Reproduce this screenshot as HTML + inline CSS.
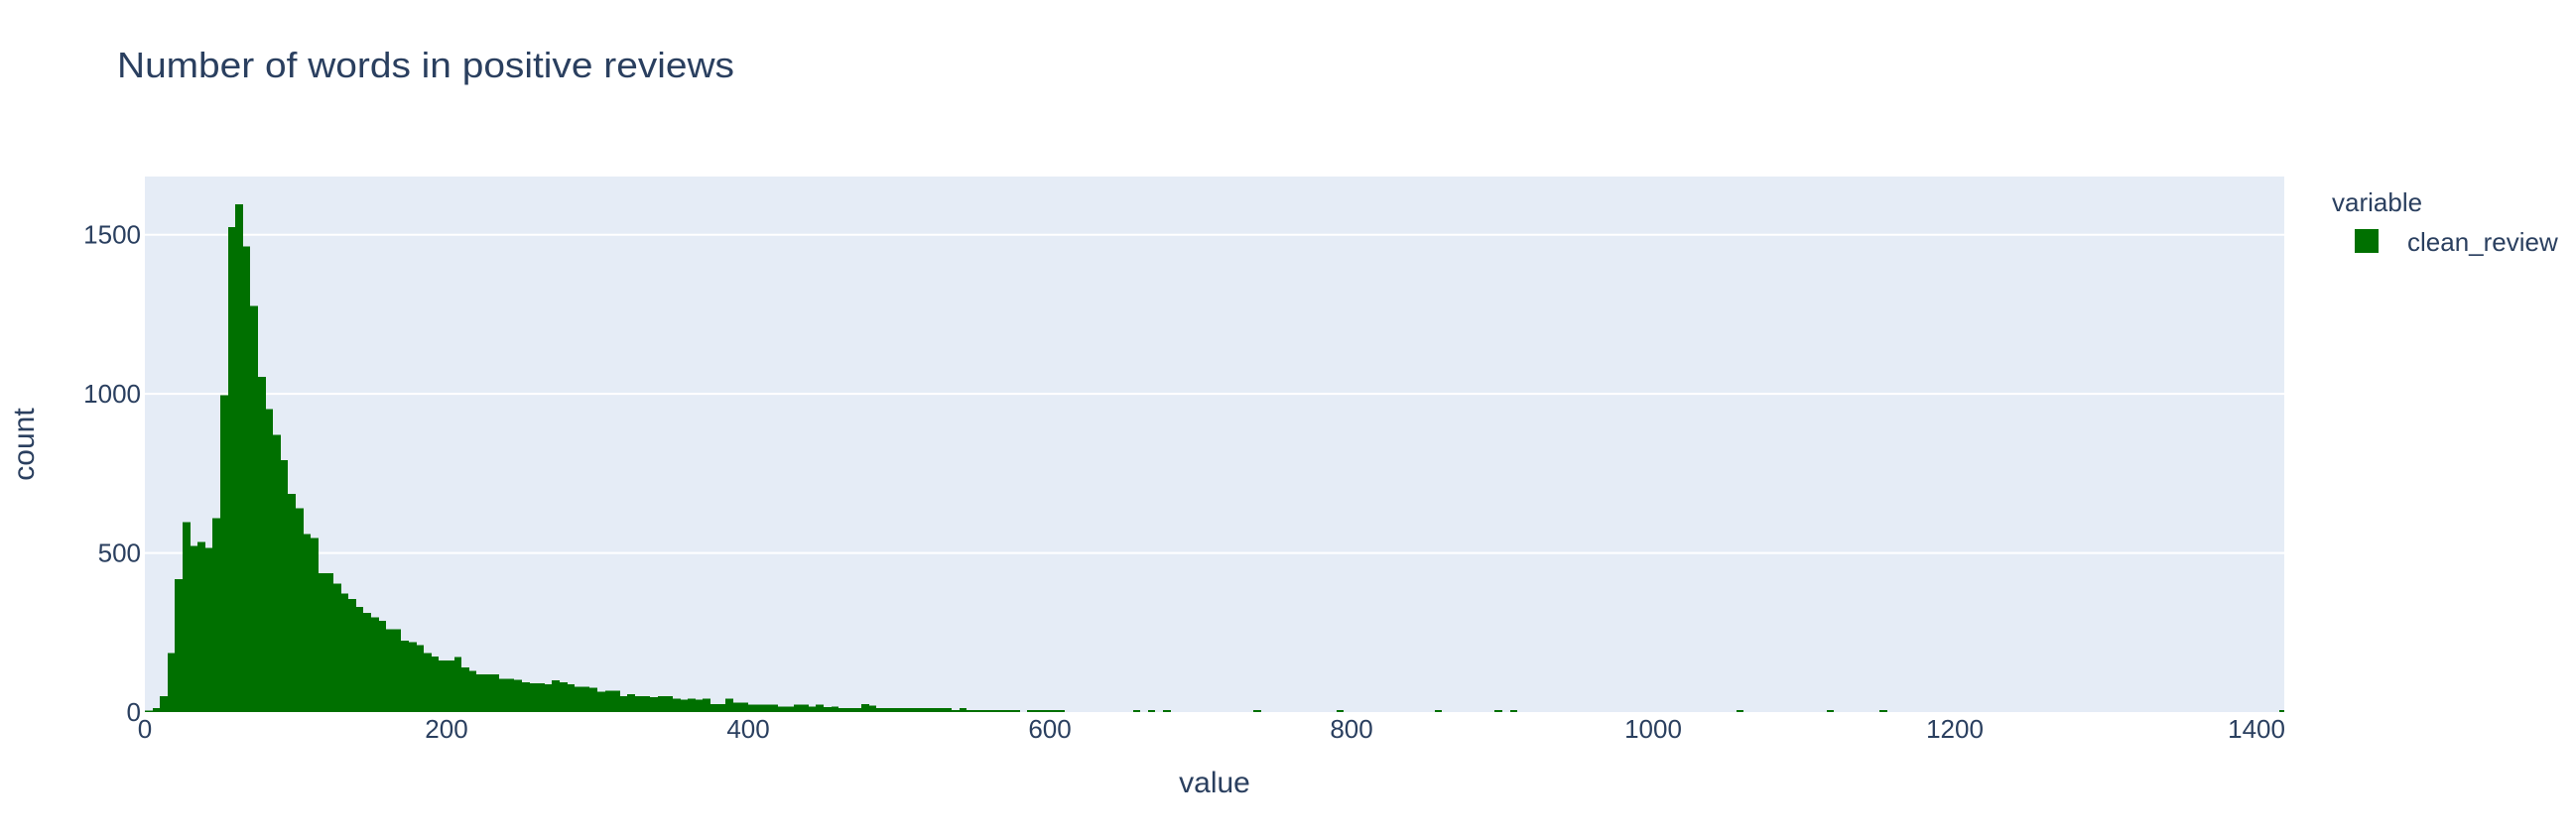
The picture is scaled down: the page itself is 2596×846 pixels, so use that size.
<!DOCTYPE html>
<html><head><meta charset="utf-8">
<style>
html,body{margin:0;padding:0;background:#fff;}
svg{display:block;font-family:"Liberation Sans",sans-serif;}
</style></head>
<body>
<svg id="chart" width="2596" height="846" viewBox="0 0 2596 846" xmlns="http://www.w3.org/2000/svg">
<rect x="0" y="0" width="2596" height="846" fill="#fff"/>
<text x="118" y="78" font-size="36" fill="#2a3f5f" textLength="622" lengthAdjust="spacingAndGlyphs">Number of words in positive reviews</text>
<rect x="146" y="178" width="2156" height="540" fill="#E5ECF6"/>
<g id="grid"></g>
<g id="bars" shape-rendering="crispEdges"></g>
<g id="yticks"></g>
<g id="xticks"></g>
<text x="1224" y="799" font-size="30" fill="#2a3f5f" text-anchor="middle">value</text>
<text x="34" y="448" font-size="30" fill="#2a3f5f" text-anchor="middle" transform="rotate(-90 34 448)">count</text>
<g>
<text x="2350" y="213" font-size="26" fill="#2a3f5f">variable</text>
<rect x="2373" y="231" width="24" height="24" fill="#007000"/>
<text x="2426" y="253" font-size="26" fill="#2a3f5f">clean_review</text>
</g>
</svg>
<script>
const binSize = 5;
const binCounts = [5,12,50,185,417,597,522,535,516,610,996,1524,1595,1464,1277,1053,952,871,791,685,641,560,547,436,436,404,373,355,330,311,298,286,261,261,224,219,210,185,175,162,162,173,140,130,118,118,118,104,104,101,94,91,91,87,99,94,87,79,79,76,64,67,67,50,56,50,50,47,50,50,42,39,42,39,42,25,25,42,30,30,24,24,24,24,17,17,24,24,17,24,15,17,12,12,12,25,20,12,12,12,12,12,12,12,12,12,12,6,12,6,6,6,6,6,6,6,0,6,6,6,6,6];
const sparseBins = [131,133,135,147,158,171,179,181,211,223,230,283];
const sparseCounts = [6,6,6,6,6,6,6,6,6,6,6,6];
const xTicks = [0,200,400,600,800,1000,1200,1400];
const yTicks = [0,500,1000,1500];

const X0=146, X1=2302, Y0=718, Y1=178;
const xMax=1418.4, yMax=1683;
function xs(v){return X0+(v/xMax)*(X1-X0);}
function ys(v){return Y0-(v/yMax)*(Y0-Y1);}
const NS="http://www.w3.org/2000/svg";
function mk(tag,attrs,parent){const e=document.createElementNS(NS,tag);for(const k in attrs)e.setAttribute(k,attrs[k]);parent.appendChild(e);return e;}

const grid=document.getElementById('grid');
yTicks.forEach(t=>{if(t===0)return;
  const l=mk('line',{x1:X0,x2:X1,y1:ys(t),y2:ys(t),stroke:'#fff','stroke-width':2},grid);
  
  
});
const bars=document.getElementById('bars');
function drawBar(i,c){
  if(c<=0)return;
  const x=Math.round(xs(i*binSize)), x2=Math.round(xs((i+1)*binSize));
  const w=Math.min(x2,X1)-x;
  const r=mk('rect',{x:x,y:ys(c),width:w,height:Y0-ys(c),fill:'#007000'},bars);
  
  
}
binCounts.forEach((c,i)=>drawBar(i,c));
sparseBins.forEach((b,k)=>drawBar(b,sparseCounts[k]));

const yt=document.getElementById('yticks');
yTicks.forEach(t=>{
  const e=mk('text',{x:142,y:ys(t)+9,'font-size':26,fill:'#2a3f5f','text-anchor':'end'},yt);
  e.textContent=t;
  
  
});
const xt=document.getElementById('xticks');
xTicks.forEach(t=>{
  const e=mk('text',{x:xs(t),y:744,'font-size':26,fill:'#2a3f5f','text-anchor':'middle'},xt);
  e.textContent=t;
  
  
});
</script>
</body></html>
